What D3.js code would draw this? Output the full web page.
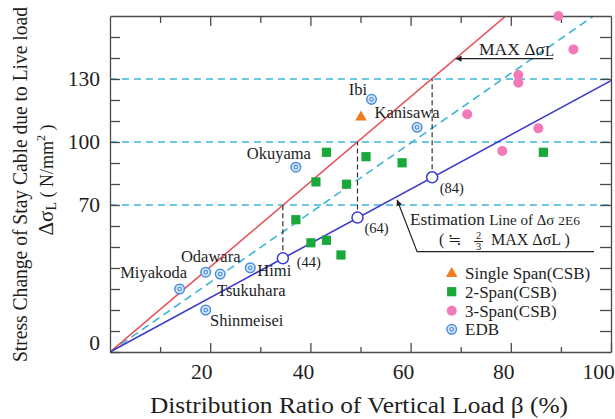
<!DOCTYPE html>
<html><head><meta charset="utf-8">
<script src="https://cdn.jsdelivr.net/npm/d3@7"></script>
<style>
body{margin:0;background:#fff}
text{font-family:"Liberation Serif","Times New Roman",serif;fill:#1e1e1e}
</style>
</head><body>
<svg id="c" width="615" height="419"></svg>
<script>
// ---------- data ----------
const xMajorTicks = [20, 40, 60, 80, 100];
const xMinorTicks = [10, 30, 50, 70, 90];
const yTickLabels = [0, 70, 100, 130];
const yAllTicks = [10, 20, 30, 40, 50, 60, 70, 80, 90, 100, 110, 120, 130, 140, 150];
const guideLevels = [70, 100, 130];

const maxLine = [[0, 0], [79, 160]];        // MAX Δσ_L (red)
const estLine = [[0, 0], [100, 129.2]];     // estimation line (blue)
const midLine = [[0, 0], [96.5, 160]];      // dashed cyan diagonal

const estBeta   = [34.5, 49.4, 64.3];
const estValue  = [44.6, 64.0, 83.2];
const estTop    = [70, 100, 130];
const estLabels = ["(44)", "(64)", "(84)"];

const singleX = [50.1];
const singleY = [111.8];
const singleNames = ["Kanisawa"];

const twoX = [43.2, 51.1, 58.3, 41.1, 47.2, 37.1, 40.1, 43.2, 46.1, 86.5];
const twoY = [95.1, 93.0, 90.1, 81.0, 79.9, 63.0, 52.0, 53.2, 46.2, 95.1];

const threeX = [89.5, 92.5, 81.5, 81.5, 71.3, 85.5, 78.3];
const threeY = [160.0, 144.1, 131.9, 128.2, 113.2, 106.5, 95.7];

const edbX = [37.1, 19.1, 22.0, 28.0, 13.9, 19.1, 52.2, 61.3];
const edbY = [88.0, 38.0, 37.1, 40.1, 30.0, 20.0, 120.3, 107.0];
const edbNames = ["Okuyama", "Odawara", "Tsukuhara", "Himi", "Miyakoda", "Shinmeisei", "Ibi", ""];

const legendLabels = ["Single Span(CSB)", "2-Span(CSB)", "3-Span(CSB)", "EDB"];

// ---------- layout / style ----------
const edbLabelOffset = [[-17,-14],[5,-15.6],[31,16.5],[24,2.4],[-26,-17],[41,10.7],[-13.5,-10],[0,0]];
const singleLabelOffset = [[46,-4.6]];
const xLabelShift = [-9, -7.5, -7.5, -7.5, -13];
const C = {red:"#e8505a", blue:"#3b3bcc", cyan:"#3db5d8", green:"#19a83a", pink:"#f27ab8",
           orange:"#f07c1e", edbStroke:"#4a8edc", edbFill:"#d3e5f7", axis:"#4a4a4a"};

const svg = d3.select("#c");
const x = d3.scaleLinear().domain([0, 100]).range([110, 611]);
const y = d3.scaleLinear().domain([0, 160]).range([352, 16]);

const defs = svg.append("defs");
defs.append("clipPath").attr("id","clip")
  .append("rect").attr("x",110).attr("y",16).attr("width",501).attr("height",336);
defs.append("marker").attr("id","arr").attr("viewBox","0 0 10 10").attr("refX",10).attr("refY",5)
  .attr("markerWidth",7).attr("markerHeight",6).attr("markerUnits","userSpaceOnUse")
  .attr("orient","auto-start-reverse")
  .append("path").attr("d","M0,0L10,5L0,10z").attr("fill","#222");

const plot = svg.append("g").attr("clip-path","url(#clip)");

// horizontal dashed guides
plot.selectAll(".hg").data(guideLevels).join("line")
  .attr("x1", x(0)).attr("x2", x(100)).attr("y1", d=>y(d)).attr("y2", d=>y(d))
  .attr("stroke", C.cyan).attr("stroke-width",1.5).attr("stroke-dasharray","7,5");

const line = d3.line().x(d=>x(d[0])).y(d=>y(d[1]));
plot.append("path").attr("d", line(midLine)).attr("fill","none")
  .attr("stroke", C.cyan).attr("stroke-width",1.6).attr("stroke-dasharray","8,5");
plot.append("path").attr("d", line(maxLine)).attr("fill","none")
  .attr("stroke", C.red).attr("stroke-width",1.6);
plot.append("path").attr("d", line(estLine)).attr("fill","none")
  .attr("stroke", C.blue).attr("stroke-width",1.6);

// vertical dashed links
plot.selectAll(".vl").data(estBeta).join("line")
  .attr("x1", d=>x(d)).attr("x2", d=>x(d))
  .attr("y1", (d,i)=>y(estValue[i])).attr("y2", (d,i)=>y(estTop[i]))
  .attr("stroke","#333").attr("stroke-width",1.2).attr("stroke-dasharray","5,3");

// axes
function styleAxis(g){ g.selectAll("path,line").attr("stroke", C.axis).attr("stroke-width",1.3); }
svg.append("g").attr("transform",`translate(0,${y(0)})`)
  .call(d3.axisBottom(x).tickValues(xMajorTicks).tickSizeInner(-9).tickSizeOuter(0).tickPadding(11.5))
  .call(styleAxis)
  .call(g=>g.selectAll("text").attr("dx",(d,i)=>xLabelShift[i]).attr("font-size",21.5)
            .attr("font-family","Liberation Serif").attr("fill","#1e1e1e"));
svg.append("g").attr("transform",`translate(0,${y(0)})`)
  .call(d3.axisBottom(x).tickValues(xMinorTicks).tickSizeInner(-5).tickSizeOuter(0).tickFormat(""))
  .call(styleAxis).call(g=>g.select(".domain").remove());
svg.append("g").attr("transform",`translate(0,${y(160)})`)
  .call(d3.axisTop(x).tickValues(xMajorTicks.slice(0,4)).tickSizeInner(-10).tickSizeOuter(0).tickFormat(""))
  .call(styleAxis);
svg.append("g").attr("transform",`translate(0,${y(160)})`)
  .call(d3.axisTop(x).tickValues(xMinorTicks).tickSizeInner(-7).tickSizeOuter(0).tickFormat(""))
  .call(styleAxis).call(g=>g.select(".domain").remove());
svg.append("g").attr("transform",`translate(${x(0)},0)`)
  .call(d3.axisLeft(y).tickValues(yAllTicks.concat([0])).tickSizeInner(-10).tickSizeOuter(0).tickPadding(10)
        .tickFormat(d=>yTickLabels.includes(d)?d:""))
  .call(styleAxis)
  .call(g=>g.selectAll("text").attr("font-size",21.5).attr("font-family","Liberation Serif").attr("fill","#1e1e1e")
            .attr("dy",d=>d===0?"-0.12em":"0.32em"));
svg.append("g").attr("transform",`translate(${x(100)},0)`)
  .call(d3.axisRight(y).tickValues(yAllTicks).tickSizeInner(-11).tickSizeOuter(0).tickFormat(""))
  .call(styleAxis);

// points
const ax = svg.append("g");
ax.selectAll(".sq").data(twoX).join("rect")
  .attr("x", d=>x(d)-4.6).attr("y",(d,i)=>y(twoY[i])-4.6).attr("width",9.2).attr("height",9.2)
  .attr("fill", C.green);
ax.selectAll(".pk").data(threeX).join("circle")
  .attr("cx", d=>x(d)).attr("cy",(d,i)=>y(threeY[i])).attr("r",5)
  .attr("fill", C.pink);
const tri = d3.symbol().type(d3.symbolTriangle).size(58);
ax.selectAll(".tr").data(singleX).join("path").attr("d", tri)
  .attr("transform",(d,i)=>`translate(${x(d)},${y(singleY[i])})`).attr("fill", C.orange);
const edb = ax.selectAll(".edb").data(edbX).join("g")
  .attr("transform",(d,i)=>`translate(${x(d)},${y(edbY[i])})`);
edb.append("circle").attr("r",4.8).attr("fill",C.edbFill).attr("stroke",C.edbStroke).attr("stroke-width",1.5);
edb.append("circle").attr("r",1.8).attr("fill","none").attr("stroke",C.edbStroke).attr("stroke-width",1.1);

// estimation points
ax.selectAll(".ep").data(estBeta).join("circle")
  .attr("cx", d=>x(d)).attr("cy",(d,i)=>y(estValue[i])).attr("r",5.5)
  .attr("fill","#fff").attr("stroke",C.blue).attr("stroke-width",1.5);
const estLabOff = [[26,3.4],[19,10.7],[19.6,10.4]];
ax.selectAll(".el").data(estLabels).join("text")
  .attr("x",(d,i)=>x(estBeta[i])+estLabOff[i][0]).attr("y",(d,i)=>y(estValue[i])+estLabOff[i][1])
  .attr("dy","0.35em").attr("text-anchor","middle").attr("font-size",14.5).text(d=>d);

// names
ax.selectAll(".nm").data(edbNames).join("text")
  .attr("x",(d,i)=>x(edbX[i])+edbLabelOffset[i][0]).attr("y",(d,i)=>y(edbY[i])+edbLabelOffset[i][1])
  .attr("dy","0.35em").attr("text-anchor","middle").attr("font-size",16.5).text(d=>d);
ax.selectAll(".snm").data(singleNames).join("text")
  .attr("x",(d,i)=>x(singleX[i])+singleLabelOffset[i][0]).attr("y",(d,i)=>y(singleY[i])+singleLabelOffset[i][1])
  .attr("dy","0.35em").attr("text-anchor","middle").attr("font-size",16.5).text(d=>d);

// MAX annotation
const maxSlope = maxLine[1][1]/maxLine[1][0];
const maxArrowV = 139.7;
svg.append("path").attr("d", `M${x(maxArrowV/maxSlope)},${y(maxArrowV)}L553,${y(maxArrowV)}`)
  .attr("stroke","#222").attr("stroke-width",1.2).attr("marker-start","url(#arr)");
const mt = svg.append("text").attr("x",479).attr("y",55).attr("font-size",17.5);
mt.append("tspan").text("MAX Δσ");
mt.append("tspan").attr("font-size",15).attr("dy",1).text("L");

// Estimation annotation
const estSlope = estLine[1][1]/estLine[1][0];
const leader = [[57.3, 57.3*estSlope - 1.5],[61.3,47.8],[96.6,47.8]];
svg.append("path").attr("d", line(leader)).attr("fill","none")
  .attr("stroke","#222").attr("stroke-width",1.2).attr("marker-start","url(#arr)");
const e1 = svg.append("text").attr("x",410).attr("y",224.5).attr("font-size",17.3);
e1.append("tspan").text("Estimation ");
e1.append("tspan").attr("font-size",15).text("Line of Δσ ");
e1.append("tspan").attr("font-size",13.5).text("2E6");
svg.append("text").attr("x",439).attr("y",245).attr("font-size",16).text("( ≒");
svg.append("text").attr("x",478.5).attr("y",238.5).attr("font-size",10.5).attr("text-anchor","middle").text("2");
svg.append("line").attr("x1",474).attr("x2",483).attr("y1",241.5).attr("y2",241.5).attr("stroke","#222").attr("stroke-width",1);
svg.append("text").attr("x",478.5).attr("y",250).attr("font-size",10.5).attr("text-anchor","middle").text("3");
const e2 = svg.append("text").attr("x",491).attr("y",245).attr("font-size",16);
e2.append("tspan").text("MAX ΔσL )");

// legend
const lg = svg.append("g");
const legY = [272.7, 291.7, 310.7, 329.3];
const lx = 451.7;
lg.append("path").attr("d", tri).attr("transform",`translate(${lx},${legY[0]+1})`).attr("fill",C.orange);
lg.append("rect").attr("x",lx-4.6).attr("y",legY[1]-4.6).attr("width",9.2).attr("height",9.2).attr("fill",C.green);
lg.append("circle").attr("cx",lx).attr("cy",legY[2]).attr("r",5).attr("fill",C.pink);
lg.append("circle").attr("cx",lx).attr("cy",legY[3]).attr("r",4.8).attr("fill",C.edbFill).attr("stroke",C.edbStroke).attr("stroke-width",1.5);
lg.append("circle").attr("cx",lx).attr("cy",legY[3]).attr("r",1.8).attr("fill","none").attr("stroke",C.edbStroke).attr("stroke-width",1.1);
lg.selectAll("text").data(legendLabels).join("text")
  .attr("x",465).attr("y",(d,i)=>legY[i]).attr("dy","0.35em").attr("font-size",17).text(d=>d);

// axis titles
svg.append("text").attr("x",359).attr("y",413).attr("text-anchor","middle").attr("font-size",23)
  .attr("textLength",418).attr("lengthAdjust","spacingAndGlyphs")
  .text("Distribution Ratio of Vertical Load β (%)");
svg.append("text").attr("transform","translate(26.5,184.5) rotate(-90)").attr("text-anchor","middle")
  .attr("font-size",20).attr("textLength",355).attr("lengthAdjust","spacingAndGlyphs")
  .text("Stress Change of Stay Cable due to Live load");
const yt2 = svg.append("text").attr("transform","translate(52.5,180) rotate(-90)").attr("text-anchor","middle").attr("font-size",21);
yt2.append("tspan").text("Δσ");
yt2.append("tspan").attr("font-size",14).attr("dy",3).text("L");
yt2.append("tspan").attr("font-size",18).attr("dy",-3).text(" ( N/mm");
yt2.append("tspan").attr("font-size",12).attr("dy",-8).text("2");
yt2.append("tspan").attr("font-size",18).attr("dy",8).text(" )");
</script>
</body></html>
